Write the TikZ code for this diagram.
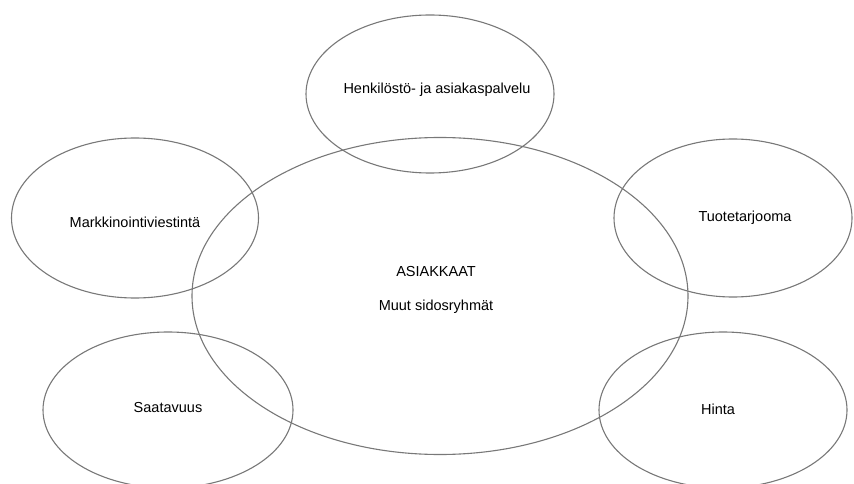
\documentclass[tikz,border=0pt]{standalone}
\usepackage{fontspec}
\setmainfont{Liberation Sans}
\usepackage{xcolor}
\usepackage{tikz}
\usetikzlibrary{shapes.geometric}

\definecolor{linegray}{RGB}{120,120,120}

\begin{document}
\begin{tikzpicture}[x=1pt,y=-1pt,
  every node/.style={font=\fontsize{14.5}{17}\selectfont},
  oval/.style={draw=linegray,ellipse,line width=1.1pt,inner sep=0pt},
  lbl/.style={align=center,inner sep=1pt}]
  \useasboundingbox (0,0) rectangle (854,484);
  % the six ovals
  \node[oval,minimum width=496pt,minimum height=317pt] (asiakkaat) at (440,296) {};
  \node[oval,minimum width=248pt,minimum height=158pt] (henk) at (430,94) {};
  \node[oval,minimum width=247pt,minimum height=160pt] (mark) at (135,218) {};
  \node[oval,minimum width=238pt,minimum height=158pt] (tuote) at (733,218) {};
  \node[oval,minimum width=250pt,minimum height=156pt] (saat) at (168,410) {};
  \node[oval,minimum width=248pt,minimum height=156pt] (hinta) at (723,410) {};
  % texts
  \node[lbl] (asiakkaat-t) at (436,290) {ASIAKKAAT\\[17pt]Muut sidosryhmät};
  \node[lbl] (henk-t) at (437,90) {Henkilöstö- ja asiakaspalvelu};
  \node[lbl] (mark-t) at (135,222) {Markkinointiviestintä};
  \node[lbl] (tuote-t) at (745,218) {Tuotetarjooma};
  \node[lbl] (saat-t) at (168,408) {Saatavuus};
  \node[lbl] (hinta-t) at (718,409) {Hinta};
\end{tikzpicture}
\end{document}
